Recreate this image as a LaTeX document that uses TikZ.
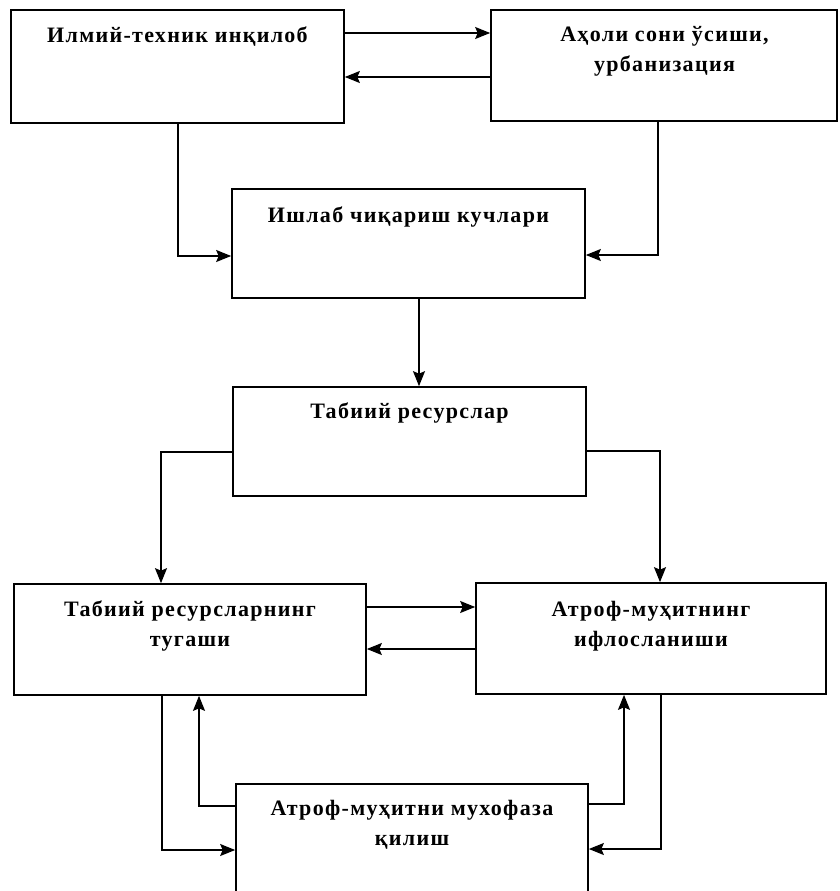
\documentclass[tikz,border=0pt]{standalone}
\usepackage{fontspec}
\setmainfont{Liberation Serif}
\newfontfamily\lblfont[LetterSpace=6]{Liberation Serif}
\usetikzlibrary{arrows.meta}
\begin{document}
\begin{tikzpicture}[x=1pt,y=-1pt,
  box/.style={draw, line width=1.7pt, inner sep=0pt},
  lbl/.style={inner sep=0pt, anchor=north, align=center, font=\lblfont\bfseries\fontsize{22}{30}\selectfont},
  arr/.style={line width=1.4pt, -{Stealth[length=15pt,width=12pt,inset=2.5pt]}}]
\useasboundingbox (0,0) rectangle (839,891);
\fill[white] (0,0) rectangle (839,891);
% boxes
\node[box, minimum width=333pt, minimum height=113pt] (b1) at (177.5,66.5) {};
\node[box, minimum width=346pt, minimum height=111pt] (b2) at (664,65.5) {};
\node[box, minimum width=353pt, minimum height=109pt] (b3) at (408.5,243.5) {};
\node[box, minimum width=353pt, minimum height=109pt] (b4) at (409.5,441.5) {};
\node[box, minimum width=352pt, minimum height=111pt] (b5) at (190,639.5) {};
\node[box, minimum width=350pt, minimum height=111pt] (b6) at (651,638.5) {};
\node[box, minimum width=352pt, minimum height=130pt] (b7) at (412,849) {};
% texts
\node[lbl] (t1) at (177.5,27) {Илмий-техник инқилоб};
\node[lbl] (t2) at (664.5,26) {Аҳоли сони ўсиши,\\урбанизация};
\node[lbl] (t3) at (408.5,207) {Ишлаб чиқариш кучлари};
\node[lbl] (t4) at (409.5,403) {Табиий ресурслар};
\node[lbl] (t5) at (190,601) {Табиий ресурсларнинг\\тугаши};
\node[lbl] (t6) at (651,601) {Атроф-муҳитнинг\\ифлосланиши};
\node[lbl] (t7) at (412,800) {Атроф-муҳитни мухофаза\\қилиш};
% connectors
\draw[arr] (b1.east |- 0,33) -- (b2.west |- 0,33);
\draw[arr] (b2.west |- 0,77) -- (b1.east |- 0,77);
\draw[arr] (b1.south -| 178,0) |- (b3.west |- 0,256);
\draw[arr] (b2.south -| 658,0) |- (b3.east |- 0,255);
\draw[arr] (b3.south -| 419,0) -- (b4.north -| 419,0);
\draw[arr] (b4.west |- 0,452) -| (b5.north -| 161,0);
\draw[arr] (b4.east |- 0,451) -| (b6.north -| 660,0);
\draw[arr] (b5.east |- 0,607) -- (b6.west |- 0,607);
\draw[arr] (b6.west |- 0,649) -- (b5.east |- 0,649);
\draw[arr] (b5.south -| 162,0) |- (b7.west |- 0,850);
\draw[arr] (b7.west |- 0,806) -| (b5.south -| 199,0);
\draw[arr] (b7.east |- 0,804) -| (b6.south -| 624,0);
\draw[arr] (b6.south -| 661,0) |- (b7.east |- 0,849);
\end{tikzpicture}
\end{document}
